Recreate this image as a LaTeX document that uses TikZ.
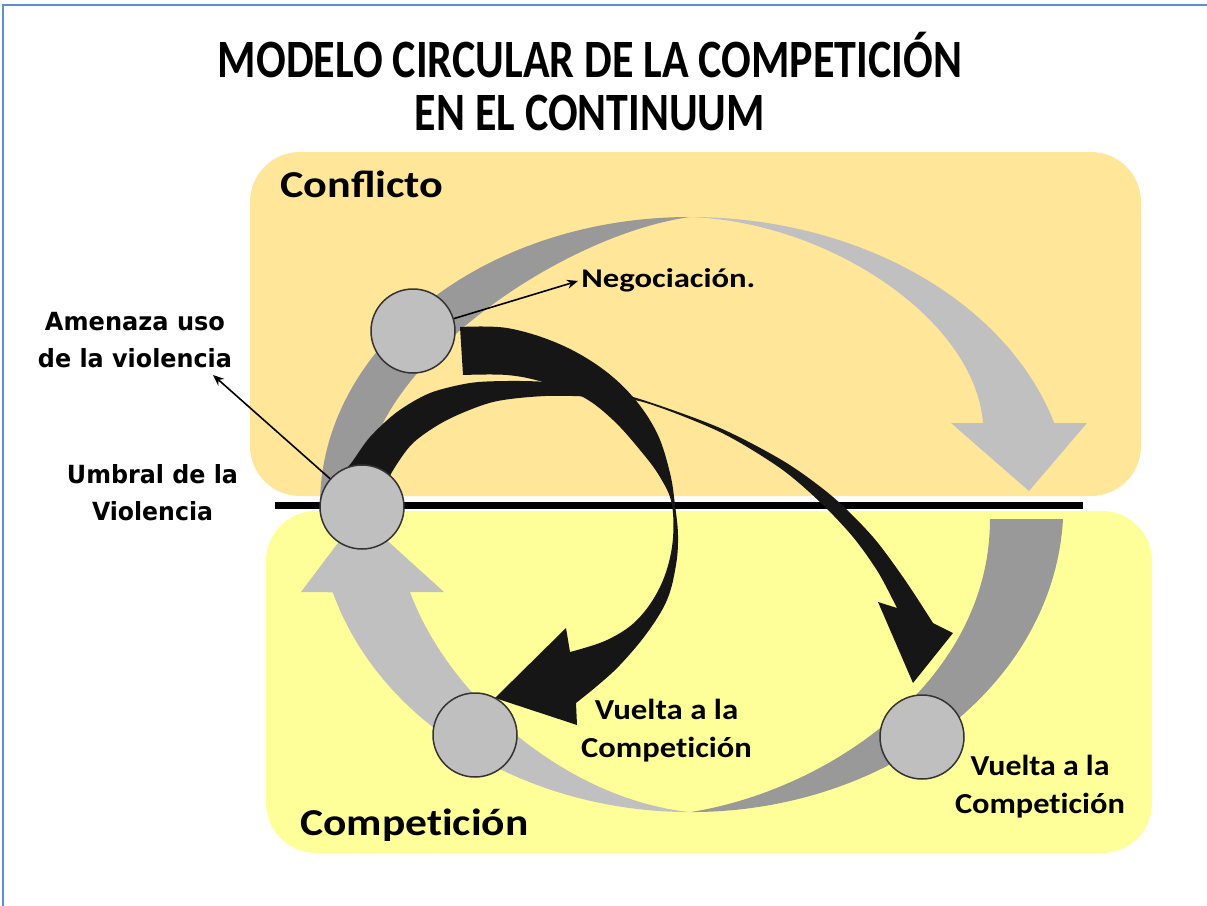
\documentclass[tikz,border=0pt]{standalone}
\usepackage{fontspec}
\setmainfont{Carlito}
\newfontfamily\sidefont{DejaVu Sans}
\usetikzlibrary{arrows.meta}
\definecolor{confcol}{HTML}{FFE699}
\definecolor{compcol}{HTML}{FFFF99}
\definecolor{gdark}{HTML}{999999}
\definecolor{glight}{HTML}{C0C0C0}
\definecolor{circcol}{HTML}{BFBFBF}
\definecolor{framecol}{HTML}{5B8FD3}
\definecolor{inkcol}{HTML}{161616}
\newcommand\fitw[2]{\resizebox{#1}{\height}{#2}}
\newcommand\stack[1]{\begin{tabular}[t]{@{}c@{}}#1\end{tabular}}
\begin{document}
\begin{tikzpicture}[x=0.5pt,y=-0.5pt,
  stage/.style={circle, draw=black!80, line width=0.75pt, fill=circcol, minimum size=42pt, inner sep=0pt},
  titletext/.style={font=\bfseries\fontsize{27}{26.5}\selectfont, inner sep=0pt, anchor=base},
  regiontext/.style={font=\bfseries\fontsize{19}{23}\selectfont, inner sep=0pt, anchor=base west},
  steptext/.style={font=\bfseries\fontsize{14.5}{19}\selectfont, inner sep=0pt, anchor=base},
  sidetext/.style={font=\sidefont\bfseries\fontsize{12.5}{18.5}\selectfont, inner sep=0pt, anchor=base},
  pointer/.style={-{Stealth[length=5.5pt,width=4.5pt]}, line width=0.8pt, black},
  ]
\useasboundingbox (0,0) rectangle (1207,906);
\fill[white] (0,0) rectangle (1207,906);
\draw[framecol, line width=1pt] (3,906) -- (3,5) -- (1207,5);

% regions
\fill[confcol, rounded corners=25pt] (250,152) rectangle (1141,496);
\fill[compcol, rounded corners=25pt] (266,511) rectangle (1152,853);

% grey circular arrows
\fill[gdark] (320,505) arc[start angle=180, end angle=270, x radius=370, y radius=288]
  .. controls (560,235) and (362,370) .. (364,495) -- cycle;
\fill[glight] (690,217) arc[start angle=270, end angle=343.5, x radius=380, y radius=288]
  -- (1087,423) -- (1029,491) -- (951,423) -- (983,423)
  .. controls (975,320) and (830,222) .. (690,217) -- cycle;
\fill[gdark] (1063,519) arc[start angle=2.6, end angle=90, x radius=373, y radius=307]
  .. controls (830,790) and (990,680) .. (990,519) -- cycle;
\fill[glight] (690.4,812.1) arc[start angle=90, end angle=163.5, x radius=373, y radius=307]
  -- (301,592) -- (359,515) -- (444,592) -- (410,592)
  .. controls (450,700) and (570,800) .. (690.4,812.1) -- cycle;

% threshold line
\draw[black, line width=3.5pt] (275,505.5) -- (1083,505.5);

% black arrows
\fill[inkcol] plot[smooth, tension=0.6] coordinates {(460,327) (507,328) (557,343) (600,367) (633,397) (657,433) (670,473) (675,505) (678,535) (676,565) (667,600) (647,633) (620,665) (597,686) (576,703)}
  -- (577,725) -- (495,698) -- (566,628)
  -- plot[smooth, tension=0.6] coordinates {(570,652) (607,640) (637,620) (660,587) (672,547) (672,505) (660,477) (640,450) (613,420) (583,397) (543,382) (507,375) (463,375)}
  -- cycle;
\fill[inkcol] plot[smooth, tension=0.5] coordinates {(345,470) (352,462) (370,437) (397,412) (430,393) (470,383) (507,381) (547,382) (595,388) (643,400) (720,428) (785,462) (833,497) (873,537) (905,580) (933,623)}
  -- (953,633) -- (913,683) -- (878,602)
  -- plot[smooth, tension=0.5] coordinates {(897,608) (878,572) (853,537) (820,502) (780,468) (720,432) (643,402) (595,397) (545,396) (493,402) (447,420) (413,443) (392,472) (385,490)}
  -- cycle;

% stage circles
\node[stage] (c1) at (413,331) {};
\node[stage] (c2) at (362,507) {};
\node[stage] (c3) at (475,735) {};
\node[stage] (c4) at (922,737) {};

% labels
\node[titletext] (title) at (590,77) {\stack{\fitw{372pt}{MODELO CIRCULAR DE LA COMPETICIÓN}\\ \fitw{175pt}{EN EL CONTINUUM}}};
\node[regiontext] (conflicto) at (280,197) {\fitw{81.5pt}{Conflicto}};
\node[regiontext] (competicion) at (300,835) {\fitw{114pt}{Compet\kern0pt ición}};
\node[steptext, anchor=base west, font=\bfseries\fontsize{13.5}{17}\selectfont] (nego) at (581,287) {\fitw{87pt}{Negociación.}};
\node[steptext] (vuelta1) at (666.5,719) {\stack{\fitw{71.75pt}{Vuelta a la}\\ \fitw{85.35pt}{Compet\kern0pt ición}}};
\node[steptext] (vuelta2) at (1040,775) {\stack{\fitw{69.5pt}{Vuelta a la}\\ \fitw{85pt}{Compet\kern0pt ición}}};
\node[sidetext] (amenaza) at (135,330) {\stack{\fitw{90pt}{Amenaza uso}\\ \fitw{97pt}{de la violencia}}};
\node[sidetext] (umbral) at (152.5,483) {\stack{\fitw{85.5pt}{Umbral de la}\\ \fitw{60.5pt}{Violencia}}};

% pointers
\coordinate (amentip) at (213,375);
\coordinate (negotip) at (578,281);
\draw[pointer] (c2) -- (amentip);
\draw[pointer] (c1) -- (negotip);
\end{tikzpicture}
\end{document}
